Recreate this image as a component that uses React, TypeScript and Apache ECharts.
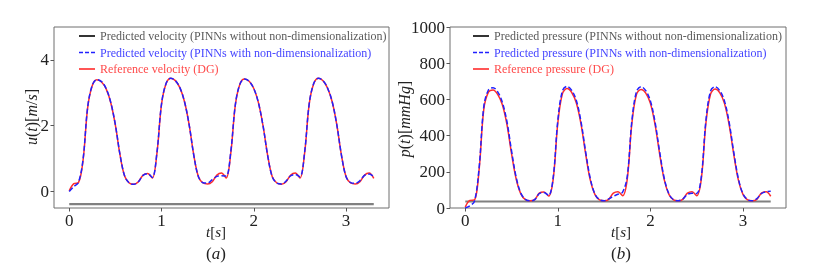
import React, { useEffect, useRef } from "react";
import * as echarts from "echarts";

const time = [
  0.0, 0.05, 0.1, 0.15, 0.2, 0.25, 0.3, 0.35, 0.4, 0.45, 0.5, 0.55, 0.6, 0.65, 0.7, 0.75, 0.8, 0.85, 0.9,
  0.95, 1.0, 1.05, 1.1, 1.15, 1.2, 1.25, 1.3, 1.35, 1.4, 1.45, 1.5, 1.55, 1.6, 1.65, 1.7,
  1.75, 1.8, 1.85, 1.9, 1.95, 2.0, 2.05, 2.1, 2.15, 2.2, 2.25, 2.3, 2.35, 2.4, 2.45, 2.5,
  2.55, 2.6, 2.65, 2.7, 2.75, 2.8, 2.85, 2.9, 2.95, 3.0, 3.05, 3.1, 3.15, 3.2, 3.25, 3.3,
];

const refVelocity = [
  0.02, 0.24, 0.27, 0.95, 2.55, 3.22, 3.4, 3.33, 3.12, 2.7, 2.02, 1.12, 0.47, 0.26, 0.22, 0.3, 0.5, 0.55, 0.41,
  1.15, 2.65, 3.28, 3.44, 3.37, 3.15, 2.72, 2.02, 1.1, 0.45, 0.26, 0.23, 0.3, 0.5, 0.56, 0.41,
  1.15, 2.63, 3.27, 3.42, 3.35, 3.13, 2.7, 2.0, 1.1, 0.45, 0.26, 0.22, 0.3, 0.5, 0.56, 0.41,
  1.15, 2.65, 3.28, 3.44, 3.37, 3.14, 2.72, 2.02, 1.1, 0.45, 0.26, 0.23, 0.3, 0.5, 0.56, 0.4,
];

const ndVelocity = [
  0.0, 0.15, 0.28, 0.98, 2.57, 3.23, 3.4, 3.34, 3.13, 2.71, 2.03, 1.13, 0.48, 0.26, 0.22, 0.3, 0.49, 0.54, 0.43,
  1.18, 2.66, 3.29, 3.44, 3.37, 3.15, 2.72, 2.02, 1.1, 0.45, 0.27, 0.26, 0.36, 0.46, 0.48, 0.47,
  1.2, 2.64, 3.27, 3.42, 3.35, 3.13, 2.7, 2.0, 1.1, 0.45, 0.26, 0.23, 0.32, 0.48, 0.52, 0.45,
  1.18, 2.66, 3.29, 3.44, 3.37, 3.14, 2.72, 2.02, 1.1, 0.45, 0.27, 0.25, 0.33, 0.49, 0.53, 0.45,
];

const refPressure = [
  5, 42, 45, 215, 545, 640, 652, 628, 572, 462, 300, 160, 78, 46, 40, 46, 82, 88, 66,
  160, 470, 632, 660, 638, 580, 465, 300, 155, 75, 45, 40, 48, 82, 90, 68,
  160, 468, 628, 655, 635, 578, 462, 298, 155, 75, 45, 40, 48, 82, 90, 68,
  160, 470, 630, 657, 636, 578, 462, 298, 155, 75, 45, 40, 48, 82, 90, 65,
];

const ndPressure = [
  0, 12, 38, 225, 560, 652, 665, 642, 585, 478, 315, 170, 82, 48, 40, 46, 80, 86, 70,
  170, 485, 648, 672, 650, 594, 478, 312, 165, 78, 46, 40, 50, 65, 76, 88,
  175, 482, 644, 670, 648, 592, 476, 310, 163, 78, 46, 40, 50, 75, 82, 80,
  172, 485, 646, 670, 648, 592, 476, 310, 163, 78, 46, 40, 52, 80, 90, 92,
];

const flatTime = [0, 3.3];
const noNdVelocity = [-0.38, -0.38];
const noNdPressure = [36, 36];

const xTicks = [0, 1, 2, 3];
const velocityTicks = [0, 2, 4];
const pressureTicks = [0, 200, 400, 600, 800, 1000];

const velNames = [
  "Predicted velocity (PINNs without non-dimensionalization)",
  "Predicted velocity (PINNs with non-dimensionalization)",
  "Reference velocity (DG)",
];
const presNames = [
  "Predicted pressure (PINNs without non-dimensionalization)",
  "Predicted pressure (PINNs with non-dimensionalization)",
  "Reference pressure (DG)",
];

const SERIF = "'Liberation Serif', 'DejaVu Serif', serif";
const BLUE = "#2020ff";
const RED = "#ff2b2b";
const GREY_LINE = "#808080";
const FRAME = "#6e6e6e";
const TEXT = "#222";

const SOLID_ICON = "path://M0,0 L16,0 L16,1.6 L0,1.6 Z";
const DASH_ICON = "path://M0,0 L4,0 L4,1.6 L0,1.6 Z M6,0 L10,0 L10,1.6 L6,1.6 Z M12,0 L16,0 L16,1.6 L12,1.6 Z";

function pairs(xs: number[], ys: number[]) {
  return xs.map((x, i) => [x, ys[i]]);
}

function mathText(parts: [string, boolean][]) {
  return parts.map(([s, it]) => `{${it ? "i" : "r"}|${s}}`).join("");
}

export default function App() {
  const ref = useRef<HTMLDivElement>(null);
  useEffect(() => {
    if (!ref.current) return;
    const chart = echarts.init(ref.current, undefined, { renderer: "svg" });

    const labelFmt = (v: number) => String(v);

    const xAxisBase = (gridIndex: number) => ({
      type: "value" as const,
      gridIndex,
      min: -0.165,
      max: 3.465,
      axisLine: { show: false, onZero: false },
      splitLine: { show: false },
      axisTick: { show: true, customValues: xTicks, length: 3.5, lineStyle: { color: "#555" } },
      axisLabel: { customValues: xTicks, fontSize: 17, fontFamily: SERIF, color: TEXT, margin: 4, formatter: labelFmt },
    });

    const yAxisBase = (gridIndex: number, min: number, max: number, ticks: number[]) => ({
      type: "value" as const,
      gridIndex,
      min,
      max,
      axisLine: { show: false, onZero: false },
      splitLine: { show: false },
      axisTick: { show: true, customValues: ticks, length: 3.5, lineStyle: { color: "#555" } },
      axisLabel: { customValues: ticks, fontSize: 17, fontFamily: SERIF, color: TEXT, margin: 5, formatter: labelFmt },
    });

    const rich = (size: number) => ({
      i: { fontStyle: "italic", fontSize: size, fontFamily: SERIF, fill: TEXT },
      r: { fontStyle: "normal", fontSize: size, fontFamily: SERIF, fill: TEXT },
    });

    const txt = (x: number, y: number, parts: [string, boolean][], size: number, rotation = 0) => ({
      type: "text",
      x,
      y,
      rotation,
      style: {
        text: mathText(parts),
        rich: rich(size),
        textAlign: "center",
        textVerticalAlign: "middle",
        fill: TEXT,
      },
    });

    const legend = (left: number, names: string[]) => ({
      orient: "vertical",
      left,
      top: 29,
      padding: 0,
      itemWidth: 16,
      itemHeight: 1.6,
      itemGap: 2.5,
      selectedMode: false,
      textStyle: { fontFamily: SERIF, fontSize: 12, lineHeight: 14 },
      data: [
        { name: names[0], icon: SOLID_ICON, itemStyle: { color: "#000" }, textStyle: { color: "#5a5a5a" } },
        { name: names[1], icon: DASH_ICON, itemStyle: { color: BLUE }, textStyle: { color: "#4545ff" } },
        { name: names[2], icon: SOLID_ICON, itemStyle: { color: RED }, textStyle: { color: "#ff4a4a" } },
      ],
    });

    const line = (name: string, xi: number, data: number[][], style: any, z: number) => ({
      name,
      type: "line",
      xAxisIndex: xi,
      yAxisIndex: xi,
      data,
      symbol: "none",
      smooth: 0.35,
      lineStyle: style,
      itemStyle: { color: style.color },
      z,
    });

    chart.setOption({
      animation: false,
      grid: [
        { left: 54, top: 27, width: 335, height: 181, show: true, borderColor: FRAME, borderWidth: 1 },
        { left: 450, top: 27, width: 336, height: 181, show: true, borderColor: FRAME, borderWidth: 1 },
      ],
      xAxis: [xAxisBase(0), xAxisBase(1)],
      yAxis: [yAxisBase(0, -0.5, 5, velocityTicks), yAxisBase(1, 0, 1000, pressureTicks)],
      legend: [legend(79, velNames), legend(473, presNames)],
      series: [
        line(velNames[0], 0, pairs(flatTime, noNdVelocity), { color: GREY_LINE, width: 2.2 }, 1),
        line(velNames[1], 0, pairs(time, ndVelocity), { color: BLUE, width: 1.5, type: [5, 2.5] }, 3),
        line(velNames[2], 0, pairs(time, refVelocity), { color: RED, width: 1.5 }, 2),
        line(presNames[0], 1, pairs(flatTime, noNdPressure), { color: GREY_LINE, width: 2.2 }, 1),
        line(presNames[1], 1, pairs(time, ndPressure), { color: BLUE, width: 1.5, type: [5, 2.5] }, 3),
        line(presNames[2], 1, pairs(time, refPressure), { color: RED, width: 1.5 }, 2),
      ],
      graphic: [
        txt(31, 117, [["u", true], ["(", false], ["t", true], [")", false], ["[", false], ["m", true], ["/", false], ["s", true], ["]", false]], 16, Math.PI / 2),
        txt(404, 119, [["p", true], ["(", false], ["t", true], [")", false], ["[", false], ["mmHg", true], ["]", false]], 16, Math.PI / 2),
        txt(216, 232, [["t", true], ["[", false], ["s", true], ["]", false]], 15),
        txt(621, 232, [["t", true], ["[", false], ["s", true], ["]", false]], 15),
        txt(216, 253, [["(", false], ["a", true], [")", false]], 17),
        txt(621, 253, [["(", false], ["b", true], [")", false]], 17),
      ],
    });
    return () => chart.dispose();
  }, []);
  return <div ref={ref} style={{ position: "fixed", left: 0, top: 0, width: 830, height: 265 }} />;
}
